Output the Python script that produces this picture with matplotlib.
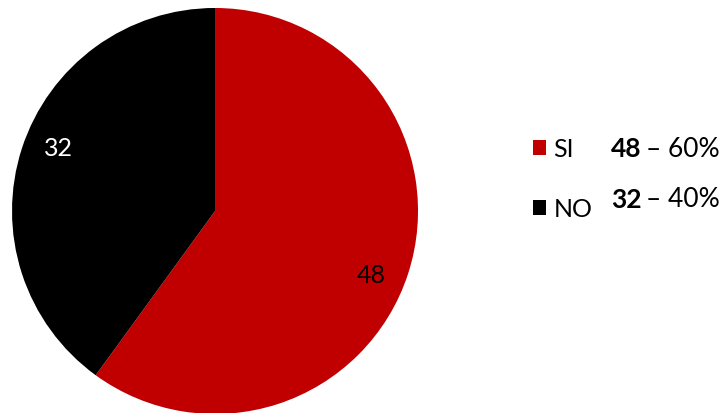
import matplotlib
matplotlib.use("Agg")
import matplotlib.pyplot as plt
import numpy as np
from matplotlib.patches import Patch

labels = ["SI", "NO"]
counts = [48, 32]
colours = ["#C00000", "#000000"]
label_colours = ["#000000", "#FFFFFF"]

total = sum(counts)
plt.rcParams["font.family"] = ["Lato", "DejaVu Sans"]

fig = plt.figure(figsize=(7.23, 4.14), dpi=100)
# pie fills a square area on the left; legend sits to the right
ax = fig.add_axes([0.0166, -0.0024, 0.5616, 0.9807])
wedges, _, autotexts = ax.pie(
    counts, colors=colours, startangle=90, counterclock=False,
    radius=1.0, pctdistance=0.83,
    autopct=lambda p: f"{round(p * total / 100):d}",
    wedgeprops={"linewidth": 0},
)
# value labels sit a little clockwise of each wedge's middle
for w, t, c in zip(wedges, autotexts, label_colours):
    mid = np.deg2rad((w.theta1 + w.theta2) / 2 - 4)
    t.set_position((0.83 * np.cos(mid), 0.83 * np.sin(mid)))
    t.set_color(c)
    t.set_fontsize(18)
ax.set_xlim(-1, 1)
ax.set_ylim(-1, 1)
ax.set_aspect("equal")
ax.axis("off")

handles = [Patch(facecolor=c, edgecolor="none") for c in colours]
fig.legend(handles, labels, loc="upper left", bbox_to_anchor=(0.72, 0.696),
           frameon=False, fontsize=18, handlelength=0.52, handleheight=0.52,
           handletextpad=0.3, labelspacing=1.48, borderpad=0)

# count and share next to each legend entry
rows_y = [0.64, 0.517]
for n, y in zip(counts, rows_y):
    fig.text(0.887, y, f"{n}", ha="right", va="center", fontsize=19,
             fontweight="bold")
    fig.text(0.893, y, f"– {n / total:.0%}", ha="left", va="center",
             fontsize=19)

fig.savefig("out.png", dpi=100)
